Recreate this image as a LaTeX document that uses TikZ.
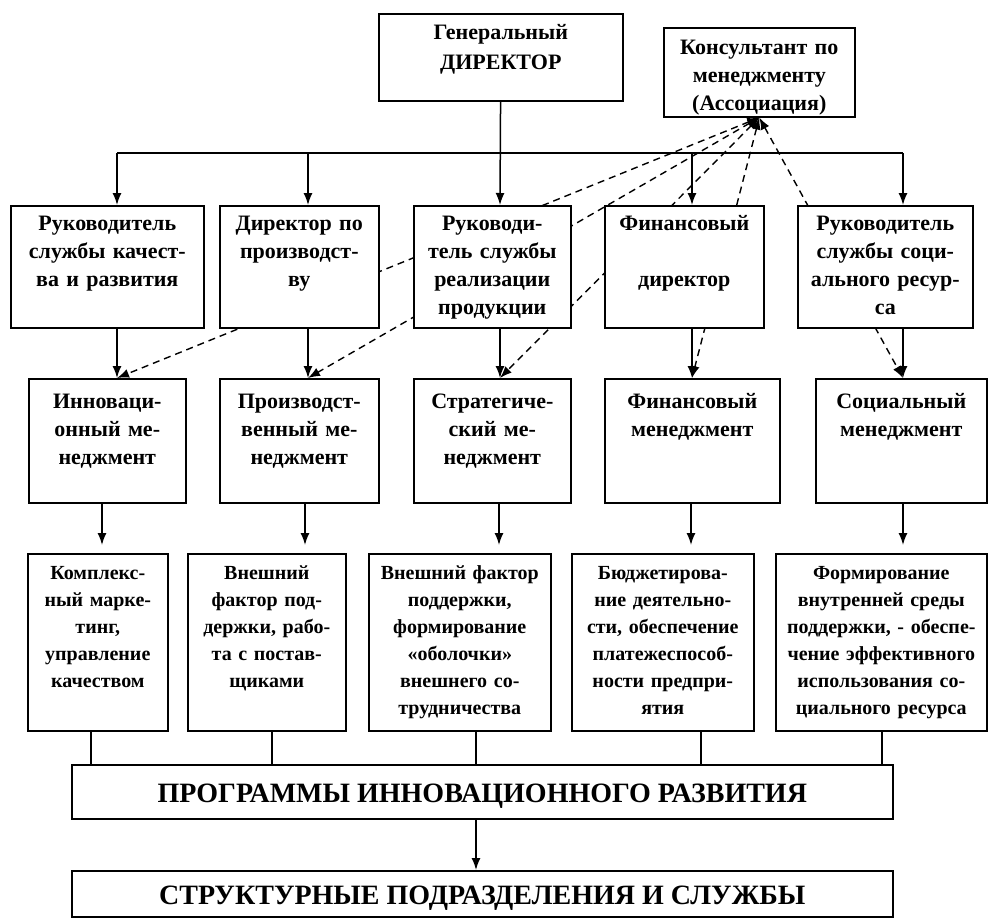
\documentclass[tikz,border=0pt]{standalone}
\usepackage{fontspec}
\setmainfont{Liberation Serif}
\usetikzlibrary{arrows.meta,backgrounds}

\begin{document}
\begin{tikzpicture}[x=1pt,y=-1pt,>={Latex[length=12pt,width=9pt]},line width=1.5pt,
    box/.style={draw,fill=white,line width=1.6pt,anchor=north west,align=center,
      inner xsep=2pt,inner ysep=0pt,font=\fontsize{22}{28}\selectfont\bfseries},
    lead/.style={box,text height=25pt,text depth=97pt},
    mgmt/.style={box,text height=30pt,text depth=94pt},
    task/.style={box,text height=26pt,text depth=151pt,font=\fontsize{20}{27}\selectfont\bfseries},
    wide/.style={box,minimum width=821pt,font=\fontsize{28}{32}\selectfont\bfseries},
    link/.style={<->,line width=1.4pt,dash pattern=on 7pt off 5pt}]

  \useasboundingbox (0,0) rectangle (988,918);

  % top
  \node[box,text width=240pt,text height=26pt,text depth=61pt] (G) at (378,13) {Генеральный\\[2pt]ДИРЕКТОР};
  \node[box,text width=187pt,text height=27pt,text depth=62pt] (K) at (663,27) {Консультант по\\менеджменту\\(Ассоциация)};

  % heads
  \node[lead,text width=189pt] (r1) at (10,205) {Руководитель\\службы качест-\\ва и развития};
  \node[lead,text width=155pt] (r2) at (219,205) {Директор по\\производст-\\ву};
  \node[lead,text width=153pt] (r3) at (413,205) {Руководи-\\тель службы\\реализации\\продукции};
  \node[lead,text width=155pt] (r4) at (604,205) {Финансовый\\[28pt]директор};
  \node[lead,text width=171pt] (r5) at (797,205) {Руководитель\\службы соци-\\ального ресур-\\са};

  % management
  \node[mgmt,text width=153pt] (m1) at (28,378) {Инноваци-\\онный ме-\\неджмент};
  \node[mgmt,text width=155pt] (m2) at (219,378) {Производст-\\венный ме-\\неджмент};
  \node[mgmt,text width=153pt] (m3) at (413,378) {Стратегиче-\\ский ме-\\неджмент};
  \node[mgmt,text width=171pt] (m4) at (604,378) {Финансовый\\менеджмент};
  \node[mgmt,text width=167pt] (m5) at (815,378) {Социальный\\менеджмент};

  % functions
  \node[task,text width=136pt] (f1) at (27,553) {Комплекс-\\ный марке-\\тинг,\\управление\\качеством};
  \node[task,text width=154pt] (f2) at (187,553) {Внешний\\фактор под-\\держки, рабо-\\та с постав-\\щиками};
  \node[task,text width=178pt] (f3) at (368,553) {Внешний фактор\\поддержки,\\формирование\\«оболочки»\\внешнего со-\\трудничества};
  \node[task,text width=178pt] (f4) at (571,553) {Бюджетирова-\\ние деятельно-\\сти, обеспечение\\платежеспособ-\\ности предпри-\\ятия};
  \node[task,text width=207pt] (f5) at (775,553) {Формирование\\внутренней среды\\поддержки, - обеспе-\\чение эффективного\\использования со-\\циального ресурса};

  \node[wide,text height=38pt,text depth=16pt] (P) at (71,764) {ПРОГРАММЫ ИННОВАЦИОННОГО РАЗВИТИЯ};
  \node[wide,text height=34pt,text depth=12pt] (C) at (71,870) {СТРУКТУРНЫЕ ПОДРАЗДЕЛЕНИЯ И СЛУЖБЫ};

  \coordinate (b1) at (117,153);
  \coordinate (b2) at (308,153);
  \coordinate (b3) at (500,153);
  \coordinate (b4) at (692,153);
  \coordinate (b5) at (903,153);
  \coordinate (a1) at (102,545);
  \coordinate (a2) at (305,545);
  \coordinate (a3) at (499,545);
  \coordinate (a4) at (691,545);
  \coordinate (a5) at (903,545);
  \coordinate (p1) at (91,764);
  \coordinate (p2) at (272,764);
  \coordinate (p3) at (476,764);
  \coordinate (p4) at (701,764);
  \coordinate (p5) at (882,764);

  \draw (b1) -- (b5);
  \draw[->] (G) -- (b3 |- r3.north);
  \foreach \i in {1,2,4,5}
    \draw[->] (b\i) -- (b\i |- r\i.north);
  \foreach \i in {1,...,5} {
    \draw[->] (b\i |- r\i.south) -- (b\i |- m\i.north);
    \draw[->] (a\i |- m\i.south) -- (a\i);
    \draw (p\i |- f\i.south) -- (p\i);
  }
  \draw[->] (p3 |- P.south) -- (p3 |- C.north);

  % consultant links
  \begin{scope}[on background layer]
    \foreach \i in {1,...,5}
      \draw[link] (K.south) -- (b\i |- m\i.north);
  \end{scope}
\end{tikzpicture}
\end{document}
